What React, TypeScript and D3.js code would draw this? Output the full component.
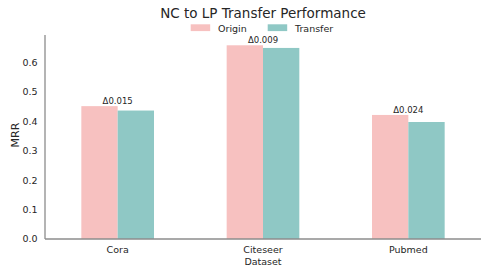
import * as d3 from "d3";

const categories = ["Cora", "Citeseer", "Pubmed"];
const originValues = [0.452, 0.659, 0.422];
const transferValues = [0.437, 0.65, 0.398];
const deltaLabels = ["Δ0.015", "Δ0.009", "Δ0.024"];
const yTicks = [0, 0.1, 0.2, 0.3, 0.4, 0.5, 0.6];

const W = 488;
const H = 276;
const M = { left: 45, right: 7, top: 35, bottom: 37 };

const ORIGIN_COLOR = "#f7c1c0";
const TRANSFER_COLOR = "#8fc8c5";
const AXIS_COLOR = "#8c8c8c";
const TEXT_COLOR = "#262626";
const FONT = "'DejaVu Sans', sans-serif";

export default function App() {
  const x = d3
    .scaleBand<string>()
    .domain(categories)
    .range([M.left, W - M.right])
    .paddingInner(0)
    .paddingOuter(0);
  const y = d3
    .scaleLinear()
    .domain([0, 0.694])
    .range([H - M.bottom, M.top]);

  const step = x.step();
  const barW = step * 0.25;
  const center = (c: string) => (x(c) ?? 0) + x.bandwidth() / 2;
  const y0 = y(0);

  return (
    <svg
      width={W}
      height={H}
      style={{ position: "absolute", left: 0, top: 0, fontFamily: FONT }}
    >
      <rect width={W} height={H} fill="#fff" />
      <text
        x={(M.left + W - M.right) / 2}
        y={17.5}
        textAnchor="middle"
        fontSize={13.5}
        fill={TEXT_COLOR}
      >
        NC to LP Transfer Performance
      </text>

      {/* legend */}
      <g fontSize={9.5} fill={TEXT_COLOR}>
        <rect x={190.7} y={24.3} width={19.5} height={6.8} fill={ORIGIN_COLOR} />
        <text x={218} y={31.5}>Origin</text>
        <rect x={267.7} y={24.3} width={19.5} height={6.8} fill={TRANSFER_COLOR} />
        <text x={295} y={31.5}>Transfer</text>
      </g>

      {/* bars */}
      {categories.map((c, i) => (
        <g key={c}>
          <rect
            x={center(c) - barW}
            y={y(originValues[i])}
            width={barW}
            height={y0 - y(originValues[i])}
            fill={ORIGIN_COLOR}
          />
          <rect
            x={center(c)}
            y={y(transferValues[i])}
            width={barW}
            height={y0 - y(transferValues[i])}
            fill={TRANSFER_COLOR}
          />
          <text
            x={center(c)}
            y={y(Math.max(originValues[i], transferValues[i])) - 2}
            textAnchor="middle"
            fontSize={8.5}
            fill={TEXT_COLOR}
          >
            {deltaLabels[i]}
          </text>
          <text
            x={center(c)}
            y={253.3}
            textAnchor="middle"
            fontSize={9.5}
            fill={TEXT_COLOR}
          >
            {c}
          </text>
        </g>
      ))}

      {/* y ticks */}
      {yTicks.map((t) => (
        <text
          key={t}
          x={37.5}
          y={y(t)}
          dy="0.35em"
          textAnchor="end"
          fontSize={9.5}
          fill={TEXT_COLOR}
        >
          {d3.format(".1f")(t)}
        </text>
      ))}

      {/* spines */}
      <line x1={M.left} x2={M.left} y1={M.top} y2={y0} stroke={AXIS_COLOR} strokeWidth={1.3} />
      <line x1={M.left} x2={W - M.right} y1={y0} y2={y0} stroke={AXIS_COLOR} strokeWidth={1.3} />

      <text
        x={(M.left + W - M.right) / 2}
        y={265}
        textAnchor="middle"
        fontSize={9.5}
        fill={TEXT_COLOR}
      >
        Dataset
      </text>
      <text
        transform={`translate(18.5,135) rotate(-90)`}
        textAnchor="middle"
        fontSize={11}
        fill={TEXT_COLOR}
      >
        MRR
      </text>
    </svg>
  );
}
